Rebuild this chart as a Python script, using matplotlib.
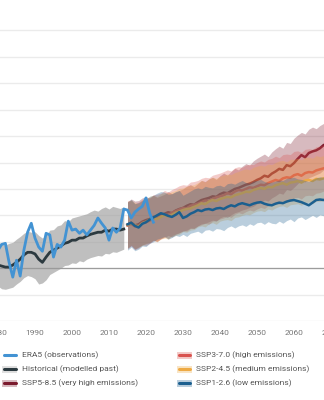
import numpy as np
import matplotlib.pyplot as plt
from matplotlib.lines import Line2D
from matplotlib.patches import Rectangle

plt.rcParams['font.family'] = ['Roboto', 'DejaVu Sans']

# --- data: temperature anomaly (degC) ---
era5_years = np.arange(1979, 2023)
era5 = [0.25, 0.34, 0.45, 0.47, 0.11, -0.17, 0.15, -0.15, 0.34, 0.68,
        0.85, 0.57, 0.40, 0.32, 0.66, 0.63, 0.21, 0.45, 0.40, 0.53,
        0.89, 0.72, 0.74, 0.66, 0.72, 0.63, 0.72, 0.81, 0.95, 0.85,
        0.76, 0.53, 0.76, 0.68, 0.76, 1.12, 1.10, 0.95, 1.06, 1.12,
        1.17, 1.33, 1.04, 0.87]

hist_years = np.arange(1975, 2015)
hist_mean = [0.11, 0.09, 0.11, 0.08, 0.08, 0.06, 0.04, 0.02, 0.02, 0.06,
             0.11, 0.17, 0.25, 0.30, 0.30, 0.27, 0.17, 0.11, 0.21, 0.30,
             0.34, 0.38, 0.42, 0.47, 0.49, 0.53, 0.53, 0.57, 0.57, 0.61,
             0.64, 0.66, 0.68, 0.68, 0.72, 0.70, 0.74, 0.74, 0.72, 0.74]
hist_hi = [0.50, 0.47, 0.52, 0.49, 0.46, 0.50, 0.45, 0.44, 0.47, 0.49,
           0.55, 0.60, 0.66, 0.70, 0.68, 0.69, 0.62, 0.57, 0.63, 0.72,
           0.73, 0.80, 0.82, 0.90, 0.88, 0.95, 0.97, 0.99, 1.01, 1.03,
           1.07, 1.10, 1.08, 1.13, 1.16, 1.12, 1.17, 1.15, 1.13, 1.16]
hist_lo = [-0.30, -0.33, -0.28, -0.35, -0.37, -0.34, -0.39, -0.40, -0.38, -0.36,
           -0.30, -0.25, -0.18, -0.14, -0.16, -0.20, -0.30, -0.28, -0.22, -0.12,
           -0.08, -0.04, 0.00, 0.05, 0.06, 0.10, 0.09, 0.14, 0.12, 0.17,
           0.20, 0.22, 0.24, 0.23, 0.28, 0.27, 0.31, 0.30, 0.33, 0.36]

ssp_years = np.arange(2015, 2071)

ssp126_mean = [0.83, 0.86, 0.80, 0.77, 0.84, 0.87, 0.92, 0.96, 1.00, 1.04,
               1.02, 0.99, 0.97, 1.01, 1.06, 0.95, 0.98, 1.03, 1.06, 1.10,
               1.08, 1.11, 1.12, 1.10, 1.13, 1.14, 1.12, 1.16, 1.19, 1.17,
               1.21, 1.23, 1.21, 1.19, 1.22, 1.24, 1.25, 1.22, 1.20, 1.19,
               1.22, 1.24, 1.23, 1.26, 1.28, 1.29, 1.27, 1.25, 1.22, 1.19,
               1.24, 1.29, 1.30, 1.29, 1.31, 1.30]
ssp126_lo = [0.34, 0.40, 0.33, 0.36, 0.42, 0.41, 0.47, 0.50, 0.55, 0.57,
             0.60, 0.55, 0.58, 0.62, 0.60, 0.64, 0.60, 0.66, 0.68, 0.70,
             0.66, 0.72, 0.73, 0.70, 0.75, 0.74, 0.71, 0.77, 0.80, 0.76,
             0.80, 0.82, 0.79, 0.84, 0.81, 0.86, 0.87, 0.83, 0.88, 0.85,
             0.84, 0.89, 0.85, 0.90, 0.93, 0.88, 0.95, 0.97, 0.92, 0.96,
             1.00, 0.96, 1.01, 0.99, 1.03, 1.00]
ssp126_hi = [1.25, 1.30, 1.22, 1.24, 1.28, 1.30, 1.36, 1.38, 1.42, 1.45,
             1.44, 1.40, 1.41, 1.45, 1.47, 1.38, 1.42, 1.46, 1.50, 1.52,
             1.50, 1.55, 1.53, 1.52, 1.56, 1.57, 1.54, 1.60, 1.61, 1.59,
             1.63, 1.66, 1.62, 1.61, 1.65, 1.66, 1.68, 1.64, 1.62, 1.63,
             1.65, 1.67, 1.66, 1.70, 1.71, 1.72, 1.69, 1.68, 1.66, 1.64,
             1.68, 1.71, 1.73, 1.72, 1.74, 1.73]

ssp245_mean = [0.82, 0.85, 0.81, 0.79, 0.85, 0.88, 0.92, 0.95, 0.93, 0.97,
               1.00, 0.98, 1.01, 1.05, 1.07, 1.10, 1.12, 1.13, 1.16, 1.19,
               1.23, 1.21, 1.26, 1.29, 1.27, 1.31, 1.33, 1.35, 1.34, 1.38,
               1.40, 1.42, 1.45, 1.44, 1.48, 1.50, 1.52, 1.50, 1.54, 1.53,
               1.57, 1.59, 1.61, 1.58, 1.62, 1.63, 1.65, 1.62, 1.66, 1.67,
               1.65, 1.69, 1.68, 1.70, 1.73, 1.72]
ssp245_lo = [0.38, 0.44, 0.37, 0.40, 0.43, 0.46, 0.49, 0.53, 0.50, 0.55,
             0.57, 0.55, 0.60, 0.62, 0.64, 0.69, 0.68, 0.72, 0.73, 0.78,
             0.80, 0.78, 0.84, 0.86, 0.83, 0.89, 0.91, 0.92, 0.90, 0.96,
             0.97, 1.00, 1.02, 1.01, 1.05, 1.08, 1.09, 1.07, 1.12, 1.10,
             1.14, 1.17, 1.18, 1.15, 1.20, 1.21, 1.22, 1.19, 1.24, 1.25,
             1.22, 1.27, 1.26, 1.28, 1.31, 1.30]
ssp245_hi = [1.26, 1.29, 1.24, 1.22, 1.29, 1.31, 1.36, 1.38, 1.36, 1.41,
             1.43, 1.42, 1.45, 1.47, 1.51, 1.52, 1.55, 1.57, 1.58, 1.62,
             1.66, 1.63, 1.69, 1.72, 1.70, 1.74, 1.76, 1.78, 1.77, 1.81,
             1.83, 1.86, 1.88, 1.86, 1.91, 1.93, 1.95, 1.93, 1.97, 1.96,
             2.00, 2.03, 2.04, 2.01, 2.06, 2.06, 2.08, 2.05, 2.10, 2.10,
             2.08, 2.13, 2.11, 2.13, 2.16, 2.15]

ssp370_mean = [0.81, 0.84, 0.79, 0.80, 0.86, 0.87, 0.90, 0.94, 0.96, 0.98,
               1.02, 1.00, 1.05, 1.08, 1.11, 1.14, 1.13, 1.18, 1.20, 1.22,
               1.25, 1.28, 1.27, 1.31, 1.34, 1.36, 1.38, 1.42, 1.40, 1.45,
               1.48, 1.47, 1.50, 1.53, 1.52, 1.55, 1.58, 1.57, 1.61, 1.64,
               1.67, 1.65, 1.70, 1.72, 1.71, 1.76, 1.78, 1.75, 1.80, 1.82,
               1.81, 1.85, 1.87, 1.89, 1.91, 1.93]
ssp370_lo = [0.37, 0.42, 0.35, 0.38, 0.44, 0.43, 0.47, 0.52, 0.52, 0.55,
             0.60, 0.56, 0.62, 0.65, 0.67, 0.71, 0.70, 0.75, 0.76, 0.80,
             0.82, 0.85, 0.83, 0.89, 0.90, 0.93, 0.95, 0.99, 0.96, 1.02,
             1.05, 1.03, 1.07, 1.10, 1.08, 1.12, 1.15, 1.13, 1.18, 1.20,
             1.24, 1.21, 1.27, 1.28, 1.27, 1.33, 1.34, 1.31, 1.37, 1.38,
             1.37, 1.42, 1.43, 1.46, 1.47, 1.50]
ssp370_hi = [1.27, 1.28, 1.22, 1.25, 1.30, 1.32, 1.33, 1.39, 1.40, 1.42,
             1.47, 1.44, 1.49, 1.52, 1.56, 1.58, 1.57, 1.63, 1.64, 1.66,
             1.70, 1.72, 1.71, 1.76, 1.78, 1.80, 1.83, 1.86, 1.84, 1.90,
             1.92, 1.91, 1.95, 1.97, 1.96, 2.00, 2.03, 2.01, 2.06, 2.08,
             2.12, 2.09, 2.15, 2.16, 2.15, 2.21, 2.22, 2.19, 2.25, 2.26,
             2.25, 2.30, 2.31, 2.34, 2.35, 2.38]

ssp585_mean = [0.82, 0.86, 0.81, 0.83, 0.88, 0.91, 0.93, 0.97, 0.95, 1.00,
               1.03, 1.06, 1.04, 1.09, 1.12, 1.14, 1.18, 1.21, 1.20, 1.25,
               1.29, 1.31, 1.33, 1.36, 1.35, 1.40, 1.43, 1.42, 1.46, 1.50,
               1.52, 1.55, 1.58, 1.60, 1.63, 1.67, 1.70, 1.75, 1.73, 1.79,
               1.83, 1.88, 1.86, 1.95, 1.93, 1.99, 2.07, 2.14, 2.10, 2.18,
               2.21, 2.23, 2.27, 2.33, 2.36, 2.38]
ssp585_lo = [0.38, 0.43, 0.36, 0.40, 0.44, 0.47, 0.48, 0.53, 0.50, 0.56,
             0.58, 0.62, 0.59, 0.64, 0.67, 0.70, 0.72, 0.76, 0.75, 0.80,
             0.84, 0.85, 0.88, 0.91, 0.89, 0.95, 0.98, 0.96, 1.01, 1.05,
             1.07, 1.10, 1.12, 1.15, 1.17, 1.22, 1.24, 1.29, 1.27, 1.33,
             1.37, 1.42, 1.40, 1.49, 1.47, 1.53, 1.60, 1.66, 1.63, 1.71,
             1.74, 1.77, 1.80, 1.86, 1.88, 1.91]
ssp585_hi = [1.26, 1.31, 1.27, 1.28, 1.33, 1.35, 1.33, 1.38, 1.34, 1.37,
             1.40, 1.45, 1.41, 1.44, 1.47, 1.50, 1.55, 1.58, 1.54, 1.60,
             1.66, 1.64, 1.69, 1.72, 1.68, 1.75, 1.80, 1.76, 1.83, 1.89,
             1.86, 1.93, 1.98, 1.95, 2.03, 2.08, 2.12, 2.16, 2.11, 2.20,
             2.26, 2.31, 2.27, 2.38, 2.36, 2.46, 2.52, 2.57, 2.54, 2.63,
             2.67, 2.64, 2.70, 2.74, 2.77, 2.80]

xticks = np.arange(1980, 2080, 10)

# colours
c_era5 = '#4393d3'
c_hist = '#2c3a40'
c_hist_band = '#999999'
c585 = '#7b1b2e'
c370 = '#d9534f'
c245 = '#eeaa44'
c126 = '#1b5f8f'

W, H = 324, 400
fig = plt.figure(figsize=(W / 100, H / 100), dpi=100)
ax = fig.add_axes([-20 / W, 79 / H, 364 / W, 321 / H])

ax.set_xlim(1975.14, 2073.51)
ax.set_ylim(-1.0, 5.076)

ax.set_yticks(np.arange(-1.0, 5.0, 0.5))
ax.yaxis.grid(True, color='#ebebeb', lw=1.0)
ax.set_axisbelow(True)
ax.tick_params(axis='y', length=0, labelleft=False)
ax.axhline(0, color='#9c9c9c', lw=0.9, zorder=1.5)

for s in ax.spines.values():
    s.set_visible(False)

ax.set_xticks(xticks)
ax.set_xticklabels([str(x) for x in xticks])
ax.tick_params(axis='x', length=0, pad=6.2, labelsize=6, labelcolor='#777777')

# modelled past
ax.fill_between(hist_years, hist_lo, hist_hi, color=c_hist_band, alpha=0.62, lw=0, zorder=2)
ax.plot(hist_years, hist_mean, color=c_hist, lw=2.0, zorder=2.1)

# scenarios, high to low so the low ones sit on top
scen = [
    (ssp585_mean, ssp585_lo, ssp585_hi, c585),
    (ssp370_mean, ssp370_lo, ssp370_hi, c370),
    (ssp245_mean, ssp245_lo, ssp245_hi, c245),
    (ssp126_mean, ssp126_lo, ssp126_hi, c126),
]
z = 3
for mean, lo, hi, c in scen:
    ax.fill_between(ssp_years, lo, hi, color=c, alpha=0.3, lw=0, zorder=z)
    ax.plot(ssp_years, mean, color=c, lw=1.8, zorder=z + 0.1)
    z += 1

ax.plot(era5_years, era5, color=c_era5, lw=2.0, zorder=10)

# legend, two columns under the axes
entries = [
    ('ERA5 (observations)', c_era5, None, 2, 22.5, 355),
    ('Historical (modelled past)', c_hist, c_hist_band, 2, 22.5, 369),
    ('SSP5-8.5 (very high emissions)', c585, c585, 2, 22.5, 383),
    ('SSP3-7.0 (high emissions)', c370, c370, 177, 196, 355),
    ('SSP2-4.5 (medium emissions)', c245, c245, 177, 196, 369),
    ('SSP1-2.6 (low emissions)', c126, c126, 177, 196, 383),
]
for label, lc, bc, hx, tx, ty in entries:
    yf = 1 - ty / H
    if bc is not None:
        fig.add_artist(Rectangle((hx / W, 1 - (ty + 3.5) / H), 15 / W, 7 / H,
                                 transform=fig.transFigure, color=bc, alpha=0.3, lw=0))
    fig.add_artist(Line2D([(hx + 1.5) / W, (hx + 13.5) / W], [yf, yf],
                          transform=fig.transFigure, color=lc, lw=2.2,
                          solid_capstyle='round'))
    fig.text(tx / W, yf, label, fontsize=6, color='#555555', va='center', ha='left')

fig.savefig('out.png', dpi=100)
